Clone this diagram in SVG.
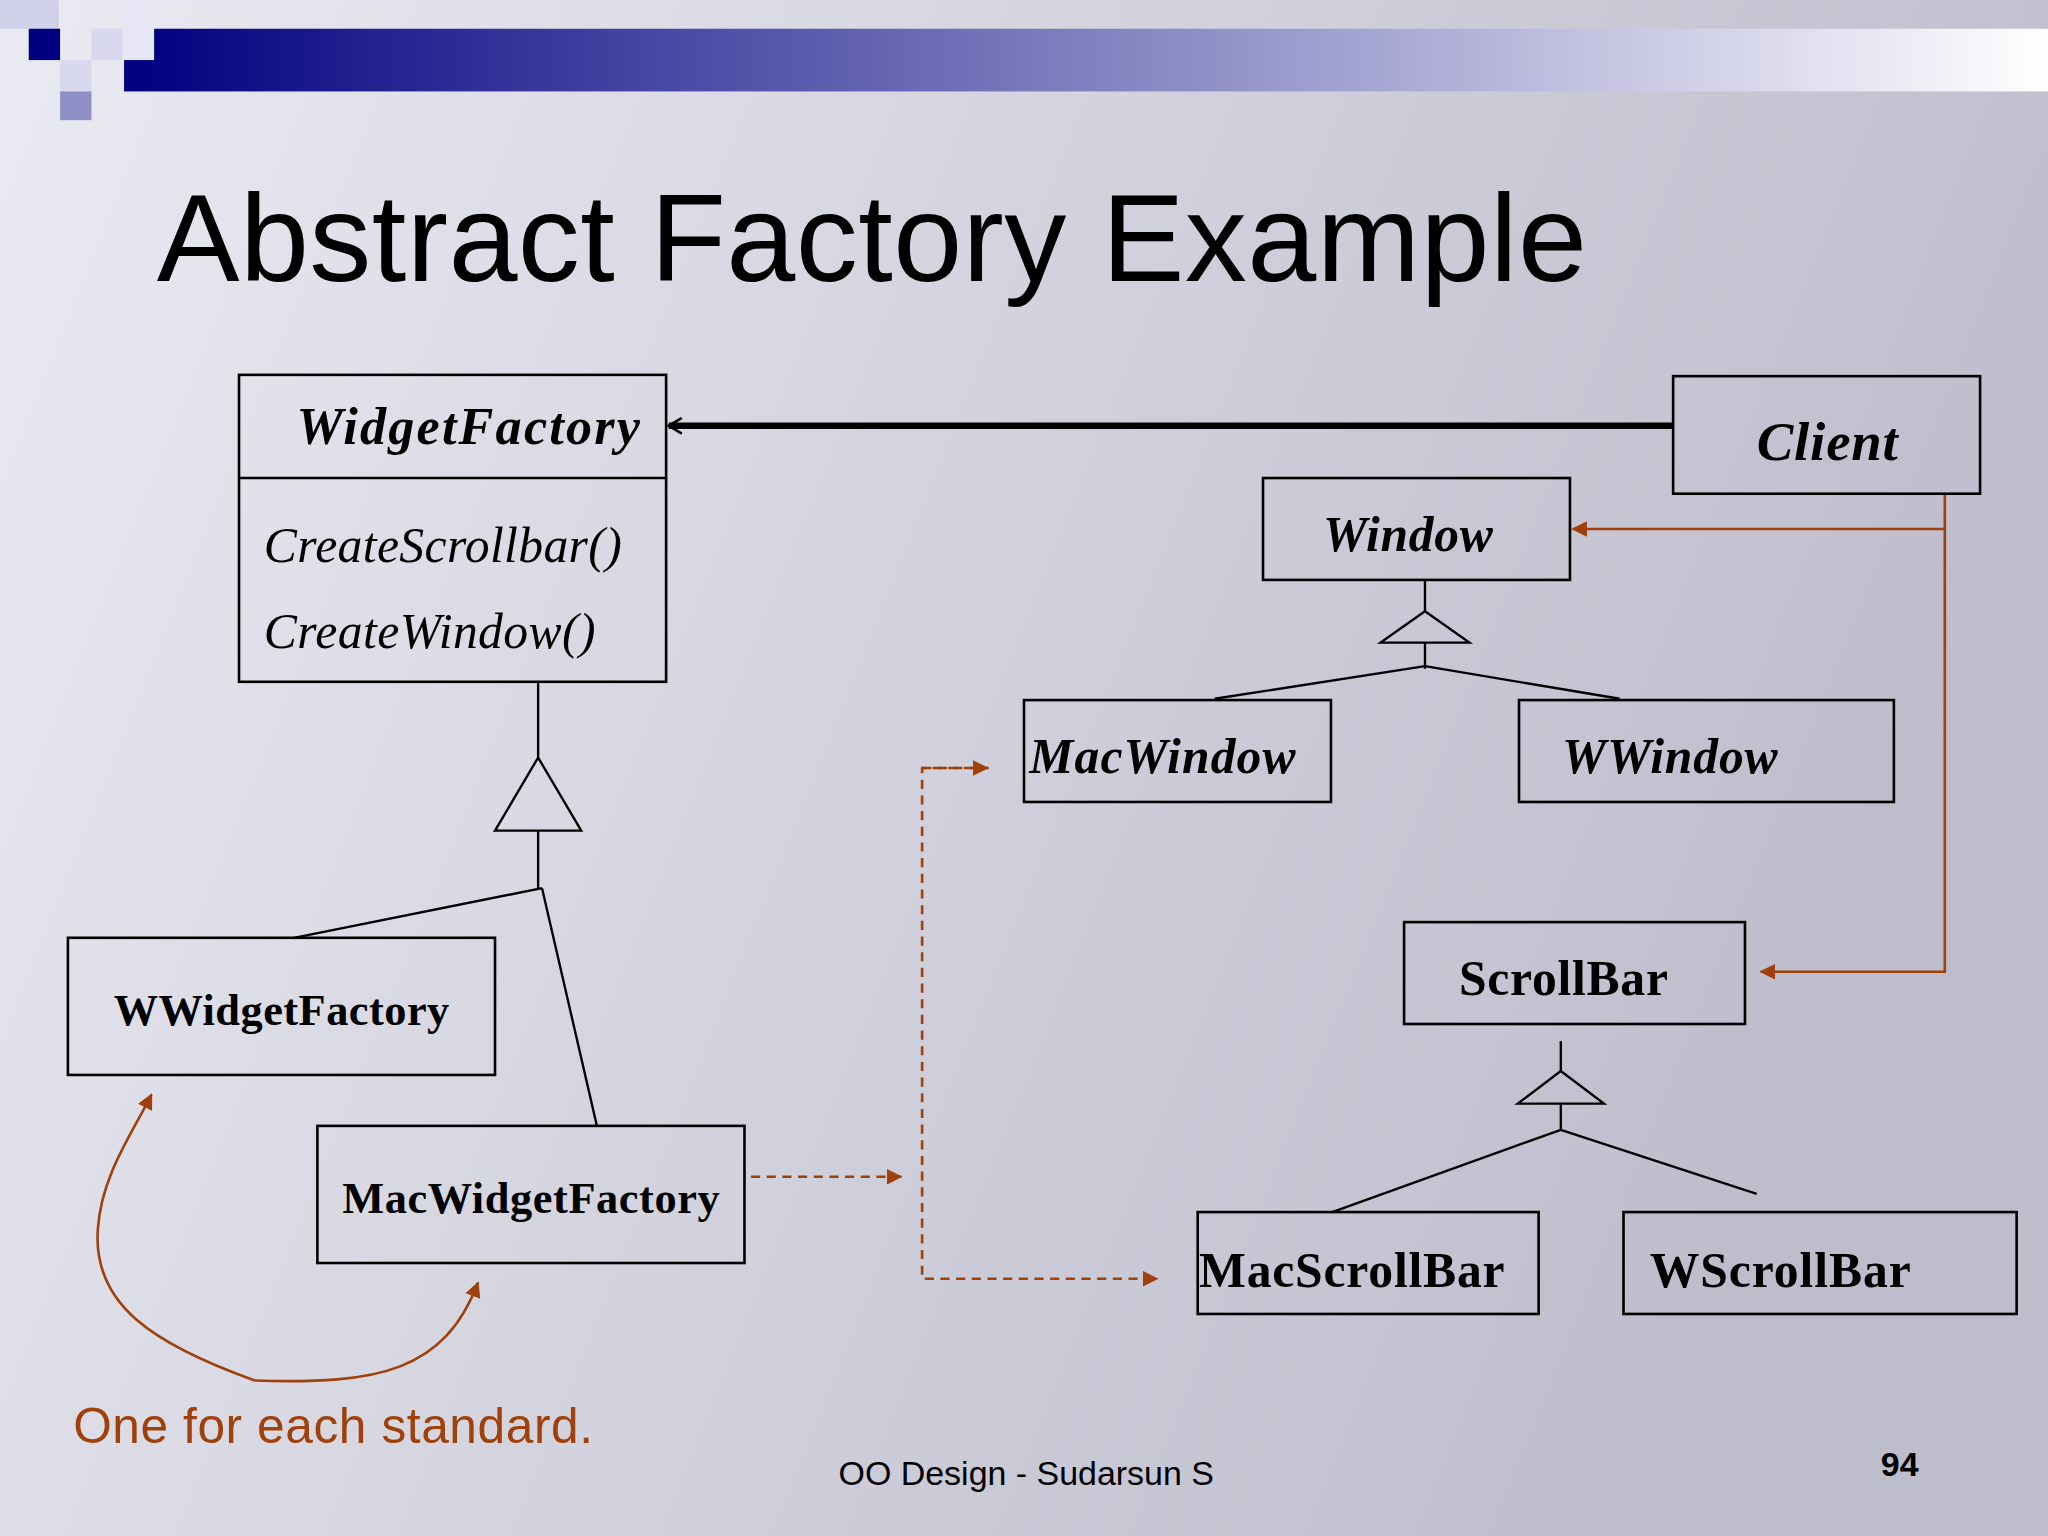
<svg xmlns="http://www.w3.org/2000/svg" width="2048" height="1536" viewBox="0 0 2048 1536">
<defs>
<linearGradient id="bg" x1="0" y1="0" x2="1" y2="0.3"><stop offset="0" stop-color="#eaeaf2"/><stop offset="1" stop-color="#bdbdcc"/></linearGradient>
<linearGradient id="bar" x1="0" y1="0" x2="1" y2="0"><stop offset="0" stop-color="#000080"/><stop offset="0.5" stop-color="#8080c0"/><stop offset="1" stop-color="#ffffff"/></linearGradient>
<marker id="oa" markerWidth="12" markerHeight="12" refX="11" refY="6" orient="auto" markerUnits="userSpaceOnUse"><path d="M0,0 L12,6 L0,12 Z" fill="#a0400a"/></marker>
<marker id="open" markerWidth="14" markerHeight="14" refX="12" refY="7" orient="auto" markerUnits="userSpaceOnUse"><path d="M2,1 L12,7 L2,13" fill="none" stroke="#000" stroke-width="2"/></marker>
</defs>
<style>
.box{fill:none;stroke:#000;stroke-width:2}
.ln{fill:none;stroke:#000;stroke-width:1.8}
.tri{fill:none;stroke:#000;stroke-width:1.8}
.bi{font-family:"Liberation Serif",serif;font-weight:bold;font-style:italic;fill:#000}
.b{font-family:"Liberation Serif",serif;font-weight:bold;fill:#000}
.it{font-family:"Liberation Serif",serif;font-style:italic;fill:#000}
.or{fill:none;stroke:#a0400a;stroke-width:2}
.dash{fill:none;stroke:#a0400a;stroke-width:2;stroke-dasharray:7,5}
</style>
<rect width="2048" height="1536" fill="url(#bg)"/>
<g transform="scale(1.30612)">
<rect x="95" y="22" width="1473" height="48" fill="url(#bar)"/>
<rect x="0" y="0" width="45" height="22" fill="#d0d0e8"/>
<rect x="22" y="22" width="24" height="24" fill="#000080"/>
<rect x="70" y="22" width="24" height="24" fill="#d8d8ee"/>
<rect x="46" y="46" width="24" height="24" fill="#d8d8ee"/>
<rect x="46" y="70" width="24" height="22" fill="#9090c8"/>
<rect x="94" y="0" width="24" height="46" fill="#e6e6f4"/>
<text x="120" y="215" font-family="Liberation Sans,Arial,sans-serif" font-size="95" textLength="1095">Abstract Factory Example</text>

<g id="connectors">
<line x1="1281" y1="326" x2="512" y2="326" stroke="#000" stroke-width="5" marker-end="url(#open)"/>
<path class="ln" d="M412,522 V580 M412,636 V680 M415,680 L225,718 M415,680 L457,862"/>
<path class="tri" d="M412,580 L379,636 L445,636 Z"/>
<path class="ln" d="M1091,444 V468 M1091,492 V512 M1091,510 L930,535 M1091,510 L1240,535"/>
<path class="tri" d="M1091,468 L1057,492 L1125,492 Z"/>
<path class="ln" d="M1195,797 V820 M1195,845 V865 M1195,865 L1020,928 M1195,865 L1345,914"/>
<path class="tri" d="M1195,820 L1162,845 L1228,845 Z"/>
<path class="or" d="M1489,378 V744 H1348" marker-end="url(#oa)"/>
<path class="or" d="M1489,405 H1204" marker-end="url(#oa)"/>
<path class="dash" d="M575,901 H690" marker-end="url(#oa)"/>
<path class="dash" d="M757,588 H706 V979 H886" marker-end="url(#oa)"/>
<path class="dash" d="M706,588 H756" marker-end="url(#oa)"/>
<path class="or" d="M195,1057 C120,1030 70,1000 75,940 C78,900 100,870 116,838" marker-end="url(#oa)"/>
<path class="or" d="M195,1057 C290,1060 340,1050 366,982" marker-end="url(#oa)"/>
</g>

<g id="WidgetFactory"><rect class="box" x="183" y="287" width="327" height="235"/><line class="ln" x1="183" y1="366" x2="510" y2="366"/>
<text class="bi" x="227" y="340" font-size="40" textLength="263">WidgetFactory</text>
<text class="it" x="202" y="430" font-size="38" textLength="274">CreateScrollbar()</text>
<text class="it" x="202" y="496" font-size="38" textLength="254">CreateWindow()</text></g>
<g id="Client"><rect class="box" x="1281" y="288" width="235" height="90"/><text class="bi" x="1345" y="352" font-size="42" textLength="108">Client</text></g>
<g id="Window"><rect class="box" x="967" y="366" width="235" height="78"/><text class="bi" x="1013" y="422" font-size="38" textLength="130">Window</text></g>
<g id="MacWindow"><rect class="box" x="784" y="536" width="235" height="78"/><text class="bi" x="788" y="592" font-size="38" textLength="204">MacWindow</text></g>
<g id="WWindow"><rect class="box" x="1163" y="536" width="287" height="78"/><text class="bi" x="1196" y="592" font-size="38" textLength="165">WWindow</text></g>
<g id="ScrollBar"><rect class="box" x="1075" y="706" width="261" height="78"/><text class="b" x="1117" y="762" font-size="38" textLength="160">ScrollBar</text></g>
<g id="MacScrollBar"><rect class="box" x="917" y="928" width="261" height="78"/><text class="b" x="918" y="985" font-size="38" textLength="234">MacScrollBar</text></g>
<g id="WScrollBar"><rect class="box" x="1243" y="928" width="301" height="78"/><text class="b" x="1263" y="985" font-size="38" textLength="200">WScrollBar</text></g>
<g id="WWidgetFactory"><rect class="box" x="52" y="718" width="327" height="105"/><text class="b" x="87" y="785" font-size="34" textLength="257">WWidgetFactory</text></g>
<g id="MacWidgetFactory"><rect class="box" x="243" y="862" width="327" height="105"/><text class="b" x="262" y="929" font-size="34" textLength="289">MacWidgetFactory</text></g>

<text x="56" y="1105" font-family="Liberation Sans,Arial,sans-serif" font-size="38" fill="#a0400a" textLength="398">One for each standard.</text>
<text x="642" y="1137" font-family="Liberation Sans,Arial,sans-serif" font-size="26">OO Design - Sudarsun S</text>
<text x="1440" y="1130" font-family="Liberation Sans,Arial,sans-serif" font-size="26" font-weight="bold">94</text>
</g>
</svg>
